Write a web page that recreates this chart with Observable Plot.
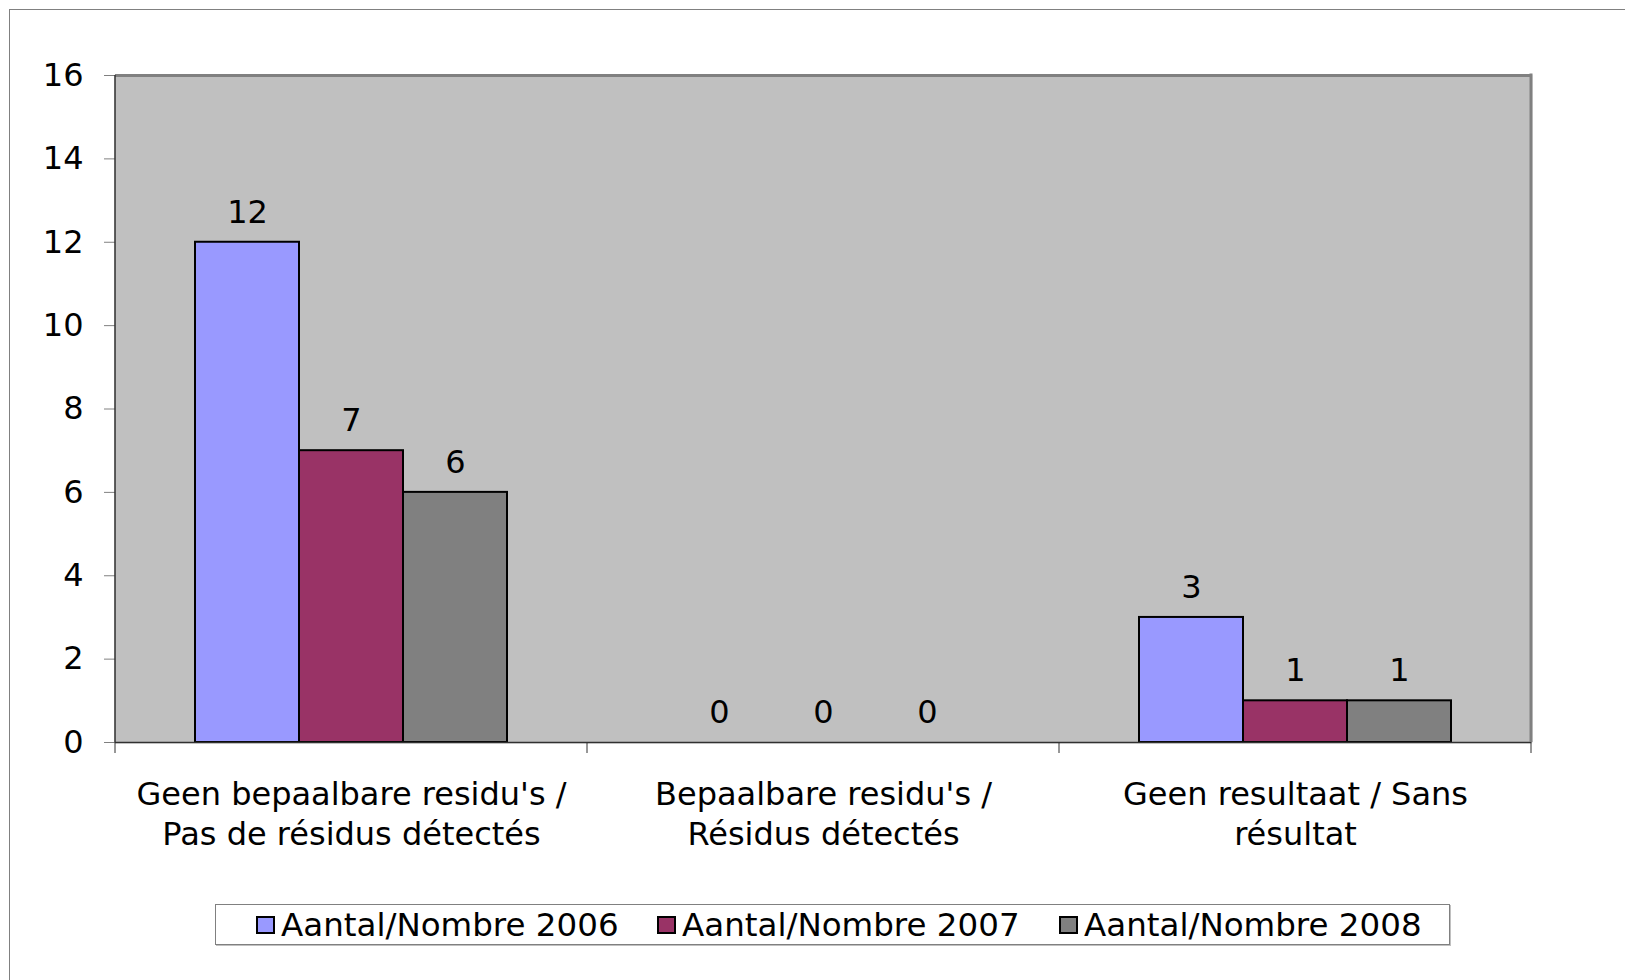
<!DOCTYPE html>
<html>
<head>
<meta charset="utf-8">
<script src="https://cdn.jsdelivr.net/npm/d3@7"></script>
<script src="https://cdn.jsdelivr.net/npm/@observablehq/plot@0.6"></script>
<style>
  html, body { margin: 0; padding: 0; background: #fff; overflow: hidden; }
  body { width: 1625px; height: 980px; position: relative; font-family: "DejaVu Sans", Verdana, sans-serif; }
  #frame { position: absolute; left: 9px; top: 9px; width: 1700px; height: 1100px; border-left: 1px solid #808080; border-top: 1px solid #808080; }
  #chart { position: absolute; left: 0; top: 0; }
  #legend { position: absolute; left: 215px; top: 904px; width: 1233px; height: 39px; border: 1px solid #808080; background: #fff; box-shadow: 1px 1px 0 #c0c0c0; }
  .item { position: absolute; top: 0; height: 39px; display: flex; align-items: center; font-size: 32.5px; color: #000; white-space: nowrap; }
  .sw { width: 15px; height: 14px; border: 2px solid #000; margin-right: 6px; }
</style>
</head>
<body>
<div id="frame"></div>
<div id="chart"></div>
<div id="legend"></div>
<script>
const categories = [
  "Geen bepaalbare residu's /\nPas de résidus détectés",
  "Bepaalbare residu's /\nRésidus détectés",
  "Geen resultaat / Sans\nrésultat"
];
const series = ["Aantal/Nombre 2006", "Aantal/Nombre 2007", "Aantal/Nombre 2008"];
const values2006 = [12, 0, 3];
const values2007 = [7, 0, 1];
const values2008 = [6, 0, 1];
const yTicks = [0, 2, 4, 6, 8, 10, 12, 14, 16];
const colors = ["#9999FF", "#993366", "#808080"];

const allValues = [values2006, values2007, values2008];
const data = [];
categories.forEach((c, i) => {
  series.forEach((s, j) => data.push({category: c, series: s, value: allValues[j][i]}));
});

const W = 1625, H = 880;
const plot = Plot.plot({
  width: W,
  height: H,
  marginLeft: 114,
  marginRight: 93,
  marginTop: 75,
  marginBottom: H - 742,
  style: {background: "transparent", fontFamily: "DejaVu Sans, Verdana, sans-serif", overflow: "visible"},
  fx: {domain: categories, padding: 0, label: null},
  x: {domain: series, paddingInner: 0, paddingOuter: 0.75, axis: null},
  y: {domain: [0, 16], axis: null},
  color: {domain: series, range: colors},
  marks: [
    Plot.frame({fill: "#C0C0C0", stroke: "#C0C0C0", strokeWidth: 1.5}),
    Plot.axisY({ticks: yTicks, tickSize: 11, tickPadding: 21, stroke: "#808080", fontSize: 32, fill: "#000", label: null, facetAnchor: "left"}),
    Plot.axisFx({anchor: "bottom", tickSize: 0, tickPadding: 35, fontSize: 32, lineHeight: 1.23, fill: "#000", label: null}),
    Plot.ruleY([16], {stroke: "#808080", strokeWidth: 3}),
    Plot.barY(data.filter(d => d.value > 0), {fx: "category", x: "series", y: "value", fill: "series", stroke: "#000", strokeWidth: 2}),
    Plot.ruleY([0], {stroke: "#303030", strokeWidth: 1.5}),
    Plot.text(data, {fx: "category", x: "series", y: "value", text: d => String(d.value), dy: -30, fontSize: 32, fill: "#000"})
  ]
});

// frame edges and category boundary ticks, positioned with the plot's own scales
const fx = plot.scale("fx");
const y = plot.scale("y");
const svg = d3.select(plot);
const y0 = y.apply(0), y16 = y.apply(16);
const left = fx.apply(categories[0]);
const right = fx.apply(categories[categories.length - 1]) + fx.bandwidth;
const g = svg.append("g");
g.append("line").attr("x1", right).attr("x2", right).attr("y1", y16 - 1.5).attr("y2", y0)
  .attr("stroke", "#808080").attr("stroke-width", 3);
g.append("line").attr("x1", left).attr("x2", left).attr("y1", y16).attr("y2", y0)
  .attr("stroke", "#303030").attr("stroke-width", 1.5);
const bounds = categories.map(c => fx.apply(c)).concat([right]);
g.selectAll("line.tk").data(bounds).join("line").attr("class", "tk")
  .attr("x1", d => d).attr("x2", d => d).attr("y1", y0).attr("y2", y0 + 11)
  .attr("stroke", "#303030").attr("stroke-width", 1);

document.getElementById("chart").appendChild(plot);

// legend
const legend = document.getElementById("legend");
const itemLeft = [40, 441, 843];
series.forEach((s, i) => {
  const it = document.createElement("div");
  it.className = "item";
  it.style.left = itemLeft[i] + "px";
  const sw = document.createElement("div");
  sw.className = "sw";
  sw.style.background = colors[i];
  const tx = document.createElement("span");
  tx.textContent = s;
  it.appendChild(sw);
  it.appendChild(tx);
  legend.appendChild(it);
});
</script>
</body>
</html>
